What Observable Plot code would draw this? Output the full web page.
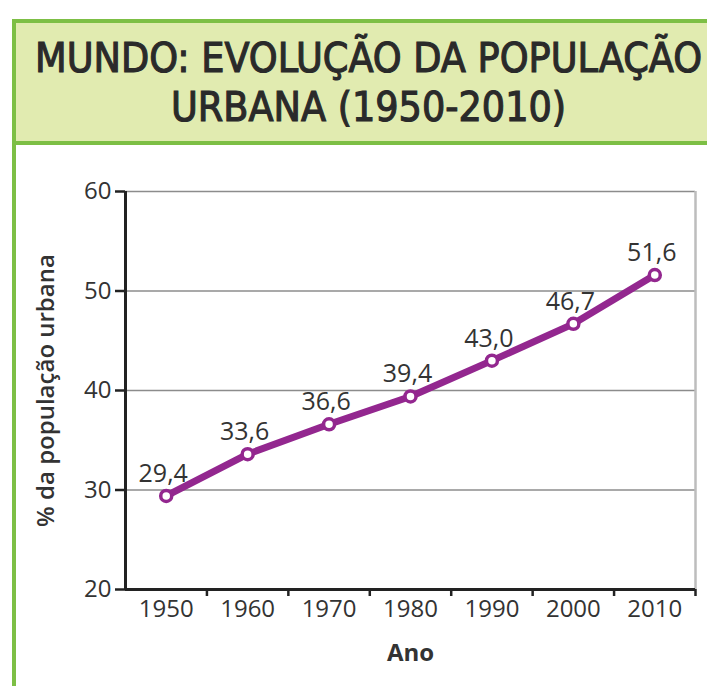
<!DOCTYPE html>
<html><head><meta charset="utf-8">
<script src="https://cdn.jsdelivr.net/npm/d3@7"></script>
<script src="https://cdn.jsdelivr.net/npm/@observablehq/plot@0.6"></script>
<style>
html,body{margin:0;padding:0;}
body{width:707px;height:686px;overflow:hidden;position:relative;background:#fff;font-family:"Open Sans",sans-serif}
#leftbar{position:absolute;left:12px;top:19px;width:4px;height:667px;background:#7dbf45}
#titlebox{position:absolute;left:12px;top:19px;width:720px;height:118px;border:4px solid #7dbf45;border-right:none;background:#e1ebb0}
.tl{position:absolute;left:0;white-space:nowrap;font-family:"DejaVu Sans";font-stretch:condensed;font-size:41px;line-height:41px;color:#2a2a2a;transform-origin:left top;-webkit-text-stroke:1.1px #2a2a2a}
#chart{position:absolute;left:0;top:147px}
</style></head>
<body>
<div id="leftbar"></div>
<div id="titlebox"></div>
<div class="tl" id="t1">MUNDO: EVOLUÇÃO DA POPULAÇÃO</div>
<div class="tl" id="t2">URBANA (1950-2010)</div>
<div id="chart"></div>
<script>
const years = [1950, 1960, 1970, 1980, 1990, 2000, 2010];
const values = [29.4, 33.6, 36.6, 39.4, 43.0, 46.7, 51.6];
const valueLabels = ["29,4", "33,6", "36,6", "39,4", "43,0", "46,7", "51,6"];
const yTicks = [20, 30, 40, 50, 60];
const xTickLabels = ["1950", "1960", "1970", "1980", "1990", "2000", "2010"];
const yLabel = "% da população urbana";
const xLabel = "Ano";

const data = years.map((y, i) => ({year: y, value: values[i], label: valueLabels[i]}));
const half = 5;
const xDomain = [years[0] - half, years[years.length - 1] + half];
const xBounds = years.map(y => y + half);
const purple = "#93278f";
const font = "'Open Sans', sans-serif";

const chart = Plot.plot({
  width: 707,
  height: 539,
  marginTop: 44,
  marginBottom: 97,
  marginLeft: 125,
  marginRight: 12,
  x: {domain: xDomain},
  y: {domain: [yTicks[0], yTicks[yTicks.length - 1]]},
  style: {fontFamily: font, fontSize: "24px", color: "#333", background: "transparent", overflow: "visible"},
  marks: [
    Plot.gridY(yTicks.slice(1), {stroke: "#8c8c8c", strokeOpacity: 1, strokeWidth: 1.5}),
    Plot.ruleX([xDomain[1]], {stroke: "#bdbdbd", strokeWidth: 2.5}),
    Plot.axisY(yTicks, {tickSize: 10, tickPadding: 4, strokeWidth: 2.5, stroke: "#222", fill: "#333", fontSize: 24, label: null}),
    Plot.axisY([], {label: yLabel, labelAnchor: "center", labelArrow: "none", labelOffset: 89, fontWeight: 600, fontSize: 24, fill: "#333"}),
    Plot.axisX(years, {tickSize: 0, tickPadding: 10, tickFormat: (d, i) => xTickLabels[i], fill: "#333", fontSize: 24, label: null}),
    Plot.axisX(xBounds, {tickSize: 7, strokeWidth: 2.5, stroke: "#222", tickFormat: () => "", label: null}),
    Plot.axisX([], {label: xLabel, labelAnchor: "center", labelArrow: "none", labelOffset: 71, fontWeight: "bold", fontSize: 24, fill: "#333"}),
    Plot.ruleX([xDomain[0]], {stroke: "#222", strokeWidth: 3}),
    Plot.ruleY([yTicks[0]], {stroke: "#222", strokeWidth: 3, x1: xDomain[0], x2: xDomain[1]}),
    Plot.line(data, {x: "year", y: "value", stroke: purple, strokeWidth: 7, strokeLinejoin: "round"}),
    Plot.dot(data, {x: "year", y: "value", r: 5.5, fill: "white", stroke: purple, strokeWidth: 3.5}),
    Plot.text(data, {x: "year", y: "value", text: "label", dx: -3, dy: -14, lineAnchor: "bottom", fontSize: 25, fill: "#333"})
  ]
});
document.getElementById("chart").appendChild(chart);

// fit title lines
const t1 = document.getElementById("t1"), t2 = document.getElementById("t2");
const w1 = t1.getBoundingClientRect().width, w2 = t2.getBoundingClientRect().width;
const s = 667 / w1;
const cx = 368.5;
t1.style.top = "38px";
t2.style.top = "87px";
t1.style.left = (cx - w1 * s / 2) + "px";
t2.style.left = (cx - w2 * s / 2) + "px";
t1.style.transform = `scaleX(${s})`;
t2.style.transform = `scaleX(${s})`;
</script>
</body></html>
